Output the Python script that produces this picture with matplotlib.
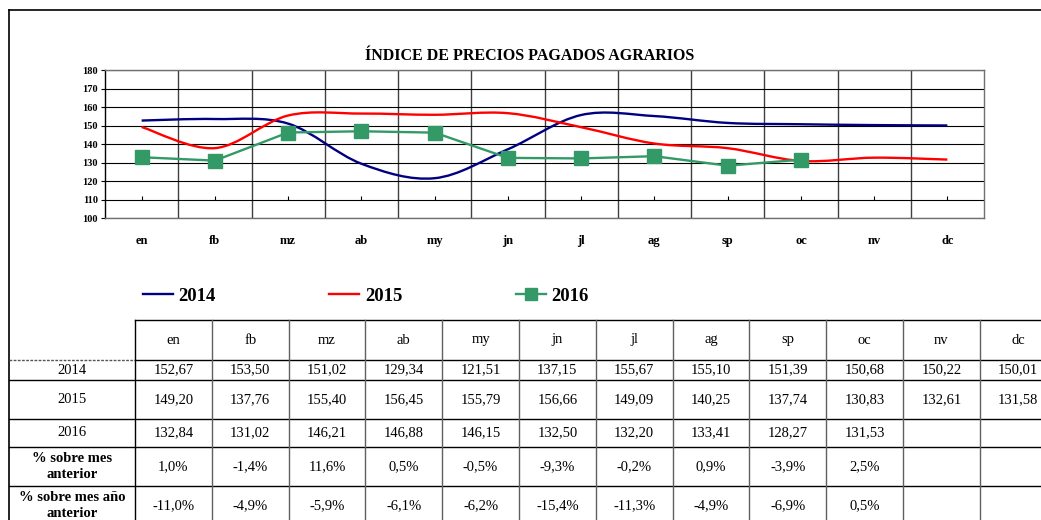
import matplotlib.pyplot as plt
import numpy as np
from matplotlib.path import Path
from matplotlib.patches import PathPatch
from matplotlib.lines import Line2D

plt.rcParams['font.family'] = ['Liberation Serif', 'DejaVu Serif']

months = ['en', 'fb', 'mz', 'ab', 'my', 'jn', 'jl', 'ag', 'sp', 'oc', 'nv', 'dc']
v2014 = [152.67, 153.50, 151.02, 129.34, 121.51, 137.15, 155.67, 155.10, 151.39, 150.68, 150.22, 150.01]
v2015 = [149.20, 137.76, 155.40, 156.45, 155.79, 156.66, 149.09, 140.25, 137.74, 130.83, 132.61, 131.58]
v2016 = [132.84, 131.02, 146.21, 146.88, 146.15, 132.50, 132.20, 133.41, 128.27, 131.53]
pct_prev_month = ['1,0%', '-1,4%', '11,6%', '0,5%', '-0,5%', '-9,3%', '-0,2%', '0,9%', '-3,9%', '2,5%']
pct_prev_year = ['-11,0%', '-4,9%', '-5,9%', '-6,1%', '-6,2%', '-15,4%', '-11,3%', '-4,9%', '-6,9%', '0,5%']

W, H = 1041, 520
fig = plt.figure(figsize=(W / 100, H / 100), dpi=100)


def smooth_path(x, y):
    # Bezier smoothing like spreadsheet "smoothed line" charts
    p = np.column_stack([x, y]).astype(float)
    n = len(p)
    verts = [p[0]]
    codes = [Path.MOVETO]
    for i in range(n - 1):
        p0 = p[max(i - 1, 0)]
        p1 = p[i]
        p2 = p[i + 1]
        p3 = p[min(i + 2, n - 1)]
        c1 = p1 + (p2 - p0) / 6
        c2 = p2 - (p3 - p1) / 6
        verts += [c1, c2, p2]
        codes += [Path.CURVE4] * 3
    return Path(verts, codes)


ax = fig.add_axes([105 / W, 1 - 218 / H, 879 / W, 148 / H])
x = np.arange(len(months))
ax.set_xlim(-0.5, len(months) - 0.5)
ax.set_ylim(100, 180)

ax.add_patch(PathPatch(smooth_path(x, v2014), fill=False, edgecolor='#000080', lw=1.7, zorder=3))
ax.add_patch(PathPatch(smooth_path(x, v2015), fill=False, edgecolor='#ff0000', lw=1.7, zorder=3))
ax.plot(x[:len(v2016)], v2016, color='#339966', lw=1.7, marker='s', ms=10, zorder=4)

ax.set_yticks(np.arange(100, 181, 10))
ax.yaxis.grid(True, color='black', lw=0.8)
for b in np.arange(0.5, len(months) - 1, 1):
    ax.axvline(b, color='#404040', lw=1.0, zorder=1)
ax.set_xticks(x)
ax.set_xticklabels(months, fontweight='bold', fontsize=9)
ax.tick_params(axis='x', length=0, pad=12)
ax.tick_params(axis='y', labelsize=7.5, length=3, pad=2)
for lbl in ax.get_yticklabels():
    lbl.set_fontweight('bold')
for s in ax.spines.values():
    s.set_color('#707070')
    s.set_linewidth(1.0)
ax.spines['left'].set_color('black')

# small category ticks sitting on the 110 line
sec = ax.secondary_xaxis(0.125)
sec.set_xticks(x)
sec.tick_params(direction='in', length=3, labelbottom=False, color='black')
sec.spines['bottom'].set_visible(False)

fig.text(530 / W, 1 - 56 / H, 'ÍNDICE DE PRECIOS PAGADOS AGRARIOS',
         ha='center', va='center', fontsize=11.5, fontweight='bold')

handles = [Line2D([], [], color='#000080', lw=1.7),
           Line2D([], [], color='#ff0000', lw=1.7),
           Line2D([], [], color='#339966', lw=1.7, marker='s', ms=9)]
fig.legend(handles, ['2014', '2015', '2016'], loc='center left',
           bbox_to_anchor=(143 / W, 1 - 296 / H), ncol=3, frameon=False,
           prop={'weight': 'bold', 'size': 13.5}, handlelength=1.6,
           handletextpad=0.3, columnspacing=6.05, borderpad=0, borderaxespad=0)

# frame and data table drawn in pixel units
tab = fig.add_axes([0, 0, 1, 1])
tab.set_xlim(0, W)
tab.set_ylim(H, 0)
tab.axis('off')
tab.set_zorder(-1)

tab.plot([9, W], [10, 10], color='black', lw=1.2)
tab.plot([9, 9], [10, H], color='black', lw=1.2)

col0 = 135
cw = 76.8
edges = [col0 + i * cw for i in range(len(months) + 1)]
rows = [320, 360, 380, 419, 447, 486, 525]
lc = 'black'

# header row
tab.plot([col0, W], [rows[0], rows[0]], color=lc, lw=1.0)
tab.plot([9, col0], [rows[1], rows[1]], color='#555555', lw=1.0, ls=(0, (2, 1)))
tab.plot([col0, W], [rows[1], rows[1]], color=lc, lw=1.0)
for r in rows[2:]:
    tab.plot([9, W], [r, r], color=lc, lw=1.0)
tab.plot([col0, col0], [rows[0], H], color=lc, lw=1.0)
for e in edges[1:]:
    tab.plot([e, e], [rows[0], H], color='#606060' if e < edges[-1] else lc, lw=1.0)

fs = 10.5
for i, m in enumerate(months):
    cx = (edges[i] + edges[i + 1]) / 2
    tab.text(cx, (rows[0] + rows[1]) / 2, m, ha='center', va='center', fontsize=fs)


def fmt(v):
    return f'{v:.2f}'.replace('.', ',')


labels = ['2014', '2015', '2016']
for r, (lab, vals) in enumerate(zip(labels, [v2014, v2015, v2016])):
    cy = (rows[r + 1] + rows[r + 2]) / 2
    tab.text((9 + col0) / 2, cy, lab, ha='center', va='center', fontsize=fs)
    for i, v in enumerate(vals):
        cx = (edges[i] + edges[i + 1]) / 2
        tab.text(cx, cy, fmt(v), ha='center', va='center', fontsize=fs)

for r, (lab, vals) in enumerate(zip(['% sobre mes\nanterior', '% sobre mes año\nanterior'],
                                    [pct_prev_month, pct_prev_year])):
    cy = (rows[r + 4] + rows[r + 5]) / 2
    tab.text((9 + col0) / 2, cy, lab, ha='center', va='center', fontsize=fs,
             fontweight='bold', linespacing=1.25)
    for i, v in enumerate(vals):
        cx = (edges[i] + edges[i + 1]) / 2
        tab.text(cx, cy, v, ha='center', va='center', fontsize=fs)

fig.savefig('out.png', dpi=100)
